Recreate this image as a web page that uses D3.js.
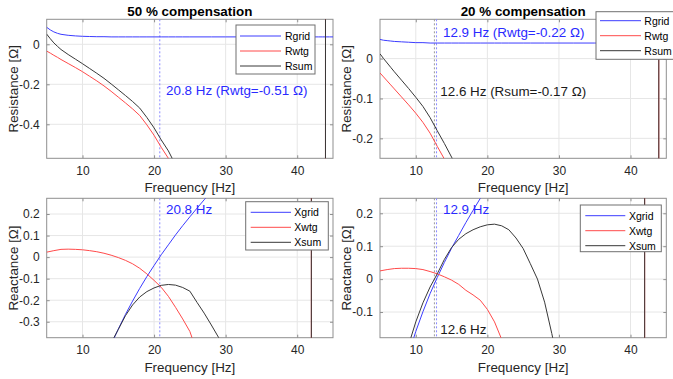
<!DOCTYPE html>
<html><head><meta charset="utf-8">
<script src="https://cdn.jsdelivr.net/npm/d3@7"></script>
<style>
body{margin:0;background:#fff}
svg{display:block}
text{font-family:"Liberation Sans",Arial,Helvetica,sans-serif}
</style>
</head><body>
<svg id="c" width="673" height="379"></svg>
<script>
// ---------- data ----------
const freqR = [5,5.5,6,6.5,7,8,9,10,11,12,13,14,15,16,17,18,19,20,21,22,23,24,25,26,28,30,32,35,38,40,42,43,43.5,43.9,44,44.5,45];
const rgrid50 = [0.085,0.072,0.062,0.055,0.050,0.045,0.042,0.040,0.039,0.038,0.038,0.037,0.037,0.037,0.037,0.037,0.037,0.037,0.037,0.037,0.037,0.037,0.037,0.037,0.037,0.037,0.037,0.037,0.037,0.037,0.037,0.037,0.037,0.037,0.037,0.037,0.037];
const rwtg50 = [-0.034,-0.044,-0.055,-0.065,-0.076,-0.096,-0.116,-0.137,-0.160,-0.183,-0.208,-0.235,-0.264,-0.293,-0.323,-0.356,-0.403,-0.455,-0.515,-0.570,-0.640,-0.720,-0.820,-0.93,-1.2,-1.55,-2.0,-3.0,-4.8,-7.0,-14,-30,-60,-300,300,60,30];
const rsum50 = [0.051,0.028,0.007,-0.010,-0.026,-0.051,-0.074,-0.097,-0.121,-0.145,-0.170,-0.198,-0.227,-0.256,-0.286,-0.319,-0.366,-0.418,-0.478,-0.533,-0.603,-0.683,-0.783,-0.893,-1.163,-1.513,-1.963,-2.963,-4.763,-6.963,-13.96,-29.96,-59.96,-299.96,300.04,60.04,30.04];
const rgrid20 = [0.048,0.046,0.045,0.044,0.043,0.042,0.041,0.040,0.040,0.039,0.039,0.039,0.039,0.039,0.039,0.039,0.039,0.039,0.039,0.039,0.039,0.039,0.039,0.039,0.039,0.039,0.039,0.039,0.039,0.039,0.039,0.039,0.039,0.039,0.039,0.039,0.039];
const rwtg20 = [-0.036,-0.046,-0.056,-0.066,-0.076,-0.096,-0.116,-0.137,-0.160,-0.187,-0.220,-0.252,-0.286,-0.322,-0.36,-0.40,-0.445,-0.49,-0.54,-0.6,-0.66,-0.73,-0.8,-0.9,-1.15,-1.5,-1.9,-2.9,-4.6,-6.8,-14,-30,-60,-300,300,60,30];
const rsum20 = [0.012,0.000,-0.011,-0.022,-0.033,-0.054,-0.075,-0.097,-0.120,-0.148,-0.181,-0.213,-0.247,-0.283,-0.321,-0.361,-0.406,-0.451,-0.501,-0.561,-0.621,-0.691,-0.761,-0.861,-1.111,-1.461,-1.861,-2.861,-4.561,-6.761,-13.96,-29.96,-59.96,-299.96,300.04,60.04,30.04];

const freqX = [5,6,7,8,9,10,11,12,13,14,15,16,17,18,19,20,21,22,23,24,25,26,27,28,29,30,32,35,38,40,41,41.5,41.95,42,42.5,43,45];
const xgrid50 = [-1.969,-1.597,-1.324,-1.112,-0.943,-0.803,-0.684,-0.581,-0.489,-0.407,-0.334,-0.266,-0.204,-0.145,-0.090,-0.039,0.011,0.057,0.103,0.146,0.187,0.227,0.266,0.305,0.342,0.378,0.447,0.548,0.645,0.707,0.737,0.752,0.766,0.767,0.783,0.798,0.857];
const xwtg50 = [0.023,0.030,0.036,0.037,0.036,0.034,0.030,0.025,0.018,0.009,-0.002,-0.015,-0.031,-0.052,-0.078,-0.108,-0.140,-0.182,-0.233,-0.287,-0.345,-0.44,-0.53,-0.62,-0.71,-0.81,-1.05,-1.6,-2.8,-5,-10,-25,-400,400,40,20,8];
const xsum50 = [-1.946,-1.567,-1.288,-1.075,-0.907,-0.769,-0.655,-0.557,-0.472,-0.398,-0.336,-0.272,-0.222,-0.185,-0.160,-0.143,-0.131,-0.127,-0.130,-0.141,-0.158,-0.21,-0.26,-0.315,-0.372,-0.43,-0.6,-1.05,-2.15,-4.3,-9.3,-24.2,-399,400.5,40.8,20.8,8.9];
const xgrid20 = [-0.676,-0.520,-0.401,-0.306,-0.227,-0.159,-0.099,-0.044,0.005,0.051,0.094,0.133,0.172,0.209,0.245,0.279,0.313,0.345,0.377,0.408,0.439,0.468,0.498,0.527,0.556,0.584,0.641,0.723,0.803,0.857,0.883,0.896,0.908,0.909,0.922,0.936,0.988];
const xwtg20 = [0.025,0.029,0.032,0.033,0.033,0.032,0.029,0.023,0.016,0.007,-0.003,-0.016,-0.034,-0.048,-0.064,-0.092,-0.130,-0.183,-0.24,-0.30,-0.36,-0.43,-0.51,-0.6,-0.7,-0.8,-1.05,-1.6,-2.8,-5,-10,-25,-400,400,40,20,8];
const xsum20 = [-0.651,-0.491,-0.369,-0.273,-0.200,-0.130,-0.072,-0.024,0.016,0.060,0.096,0.121,0.138,0.150,0.159,0.165,0.167,0.162,0.150,0.125,0.093,0.047,0.000,-0.07,-0.165,-0.27,-0.5,-0.95,-2.0,-4.2,-9.2,-24,-399,401,41,21,9];

const xTicks = [10,20,30,40];
const yTicksR50 = [-0.4,-0.2,0];
const yTicksR20 = [-0.2,-0.1,0];
const yTicksX50 = [-0.3,-0.2,-0.1,0,0.1,0.2];
const yTicksX20 = [-0.1,0,0.1,0.2];
const titles = ["50 % compensation","20 % compensation"];
const resNames = ["Rgrid","Rwtg","Rsum"];
const reaNames = ["Xgrid","Xwtg","Xsum"];
const markFreq50 = [20.8];
const markFreq20 = [12.6,12.9];

// ---------- style ----------
const C = {blue:"#3c3cff", red:"#ff4a4a", black:"#383838", dotBlue:"#8a8aff", dotGray:"#9a9a9a",
           axis:"#8f8f8f", grid:"#e6e6e6", text:"#262626"};
const seriesColors = [C.blue, C.red, C.black];

const panels = [
  {left:46.7,right:333,top:19.3,bottom:158.3,ydom:[-0.57,0.125],yticks:yTicksR50,title:titles[0],ylabel:"Resistance [Ω]",
   freq:freqR,vals:[rgrid50,rwtg50,rsum50],names:resNames,
   marks:[{f:markFreq50[0],c:C.dotBlue}],
   notes:[{t:"20.8 Hz (Rwtg=-0.51 Ω)",c:"#2a2aff",dx:119.3,y:95}],
   leg:{x:236,y:25,w:79,h:49,lx:4,lw:41,tx:49,r0:11}},
  {left:380,right:666.3,top:19.3,bottom:158.3,ydom:[-0.25,0.0985],yticks:yTicksR20,title:titles[1],ylabel:"Resistance [Ω]",
   freq:freqR,vals:[rgrid20,rwtg20,rsum20],names:resNames,
   marks:[{f:markFreq20[0],c:C.dotGray},{f:markFreq20[1],c:C.dotBlue}],
   notes:[{t:"12.9 Hz (Rwtg=-0.22 Ω)",c:"#2a2aff",dx:63,y:36.7},{t:"12.6 Hz (Rsum=-0.17 Ω)",c:"#1a1a1a",dx:60.3,y:95.5}],
   leg:{x:596,y:11.7,w:90,h:47.6,lx:4,lw:41,tx:48.3,r0:9}},
  {left:46.7,right:333,top:198.3,bottom:337.7,ydom:[-0.374,0.273],yticks:yTicksX50,title:null,ylabel:"Reactance [Ω]",
   freq:freqX,vals:[xgrid50,xwtg50,xsum50],names:reaNames,
   marks:[{f:markFreq50[0],c:C.dotBlue}],
   notes:[{t:"20.8 Hz",c:"#2a2aff",dx:119.3,y:214.3}],
   leg:{x:245.7,y:201.7,w:82.6,h:48.3,lx:5,lw:40.3,tx:48.6,r0:10.6}},
  {left:380,right:666.3,top:198.3,bottom:337.7,ydom:[-0.178,0.2456],yticks:yTicksX20,title:null,ylabel:"Reactance [Ω]",
   freq:freqX,vals:[xgrid20,xwtg20,xsum20],names:reaNames,
   marks:[{f:markFreq20[0],c:C.dotGray},{f:markFreq20[1],c:C.dotBlue}],
   notes:[{t:"12.9 Hz",c:"#2a2aff",dx:63,y:214.3},{t:"12.6 Hz",c:"#1a1a1a",dx:60.3,y:334}],
   leg:{x:580.3,y:205,w:81,h:46.7,lx:5,lw:40,tx:48.7,r0:10.7}}
];

const svg = d3.select("#c");
const fmt = d => (d===0 ? "0" : String(d));

panels.forEach((p,i) => {
  const x = d3.scaleLinear().domain([5,45]).range([p.left,p.right]);
  const y = d3.scaleLinear().domain(p.ydom).range([p.bottom,p.top]);
  const g = svg.append("g");
  const cid = "clip"+i;
  svg.append("clipPath").attr("id",cid).append("rect")
     .attr("x",p.left).attr("y",p.top).attr("width",p.right-p.left).attr("height",p.bottom-p.top);

  // grid
  g.selectAll(".gx").data(xTicks).join("line")
    .attr("x1",d=>x(d)).attr("x2",d=>x(d)).attr("y1",p.top).attr("y2",p.bottom)
    .attr("stroke",C.grid).attr("stroke-width",1);
  g.selectAll(".gy").data(p.yticks).join("line")
    .attr("y1",d=>y(d)).attr("y2",d=>y(d)).attr("x1",p.left).attr("x2",p.right)
    .attr("stroke",C.grid).attr("stroke-width",1);

  // axes (bottom/left with labels, top/right mirrored inward ticks)
  const ax = d3.axisBottom(x).tickValues(xTicks).tickSize(-3).tickPadding(8).tickFormat(d3.format("d"));
  const gxA = g.append("g").attr("transform",`translate(0,${p.bottom})`).call(ax);
  const ay = d3.axisLeft(y).tickValues(p.yticks).tickSize(-3).tickPadding(7).tickFormat(fmt);
  const gyA = g.append("g").attr("transform",`translate(${p.left},0)`).call(ay);
  const axT = d3.axisTop(x).tickValues(xTicks).tickSize(-3).tickFormat("");
  const gxT = g.append("g").attr("transform",`translate(0,${p.top})`).call(axT);
  const ayR = d3.axisRight(y).tickValues(p.yticks).tickSize(-3).tickFormat("");
  const gyR = g.append("g").attr("transform",`translate(${p.right},0)`).call(ayR);
  [gxA,gyA,gxT,gyR].forEach(a=>{
    a.select(".domain").remove();
    a.selectAll("line").attr("stroke",C.axis);
    a.selectAll("text").attr("fill",C.text).style("font-size","12px");
  });
  g.append("rect").attr("x",p.left).attr("y",p.top).attr("width",p.right-p.left).attr("height",p.bottom-p.top)
    .attr("fill","none").attr("stroke",C.axis).attr("stroke-width",1);

  // marker dotted lines
  g.selectAll(".mk").data(p.marks).join("line")
    .attr("x1",d=>x(d.f)).attr("x2",d=>x(d.f)).attr("y1",p.top).attr("y2",p.bottom)
    .attr("stroke",d=>d.c).attr("stroke-width",1).attr("stroke-dasharray","2,2");

  // curves
  const line = d3.line().x((d,k)=>x(p.freq[k])).y(d=>y(d));
  const lg = g.append("g").attr("clip-path",`url(#${cid})`);
  p.vals.forEach((v,k)=>{
    lg.append("path").datum(v).attr("d",line).attr("fill","none")
      .attr("stroke",seriesColors[k]).attr("stroke-width",1);
  });

  // annotations
  p.notes.forEach(n=>{
    g.append("text").attr("x",p.left+n.dx).attr("y",n.y).text(n.t)
     .attr("fill",n.c).style("font-size","13.4px");
  });

  // title
  if(p.title){
    g.append("text").attr("x",(p.left+p.right)/2).attr("y",16.3).attr("text-anchor","middle")
     .style("font-size","13.4px").style("font-weight","bold").attr("fill","#000").text(p.title);
  }
  // x label
  g.append("text").attr("x",(p.left+p.right)/2).attr("y",p.bottom+34).attr("text-anchor","middle")
   .style("font-size","13.4px").attr("fill",C.text).text("Frequency [Hz]");
  // y label
  const ylx = p.left-28.7;
  g.append("text").attr("transform",`translate(${ylx},${(p.top+p.bottom)/2}) rotate(-90)`)
   .attr("text-anchor","middle").style("font-size","13.4px").attr("fill",C.text).text(p.ylabel);

  // legend
  const L = p.leg;
  const lgd = g.append("g");
  lgd.append("rect").attr("x",L.x).attr("y",L.y).attr("width",L.w).attr("height",L.h)
     .attr("fill","#fff").attr("stroke","#707070").attr("stroke-width",1);
  p.names.forEach((nm,k)=>{
    const yy = L.y + L.r0 + k*15;
    lgd.append("line").attr("x1",L.x+L.lx).attr("x2",L.x+L.lx+L.lw).attr("y1",yy).attr("y2",yy)
       .attr("stroke",seriesColors[k]).attr("stroke-width",1);
    lgd.append("text").attr("x",L.x+L.tx).attr("y",yy+3.8).text(nm)
       .style("font-size","10.5px").attr("fill","#000");
  });
});
</script>
</body></html>
